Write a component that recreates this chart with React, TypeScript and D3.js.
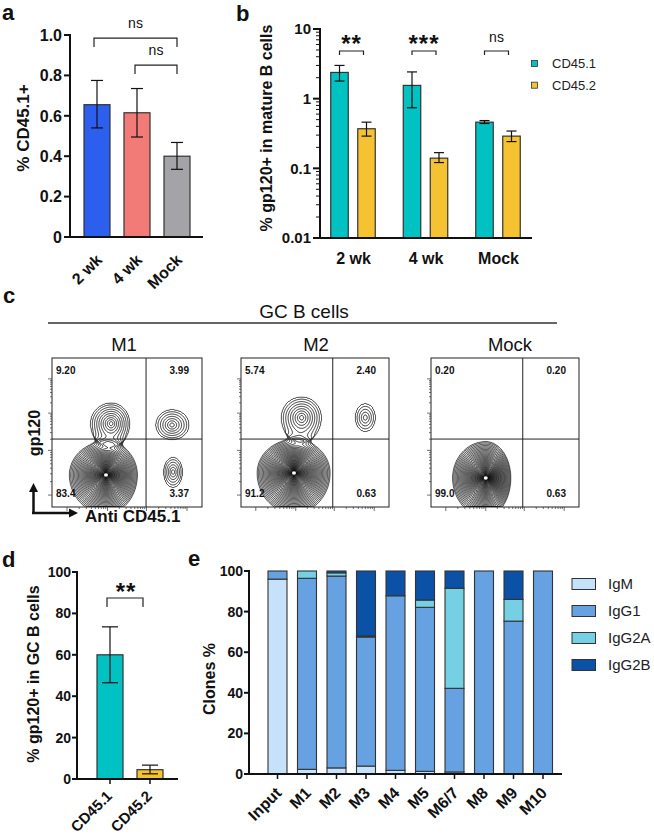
import React, { useMemo } from 'react';
import * as d3 from 'd3';

const FONT = '"Liberation Sans", Arial, Helvetica, sans-serif';

// ---------- Panel a ----------
const aCategories = ['2 wk', '4 wk', 'Mock'];
const aMeans = [0.655, 0.615, 0.4];
const aErrLow = [0.54, 0.495, 0.335];
const aErrHigh = [0.775, 0.735, 0.468];
const aColors = ['#2c5fee', '#f27b78', '#a4a4a8'];
const aTicks = [0, 0.2, 0.4, 0.6, 0.8, 1.0];
const aBrackets = [
  { from: '2 wk', to: 'Mock', level: 0.985, label: 'ns' },
  { from: '4 wk', to: 'Mock', level: 0.851, label: 'ns' },
];

// ---------- Panel b ----------
const bGroups = ['2 wk', '4 wk', 'Mock'];
const bSeries = ['CD45.1', 'CD45.2'];
const bColors = ['#00c2c2', '#f5c332'];
const bCD451 = [2.38, 1.55, 0.46];
const bCD451Low = [1.79, 0.74, 0.44];
const bCD451High = [3.0, 2.42, 0.485];
const bCD452 = [0.37, 0.14, 0.29];
const bCD452Low = [0.29, 0.121, 0.242];
const bCD452High = [0.46, 0.168, 0.343];
const bSig = ['**', '***', 'ns'];
const bTicks = [0.01, 0.1, 1, 10];

// ---------- Panel c ----------
const cPanels = ['M1', 'M2', 'Mock'];
const cQuadUL = ['9.20', '5.74', '0.20'];
const cQuadUR = ['3.99', '2.40', '0.20'];
const cQuadLL = ['83.4', '91.2', '99.0'];
const cQuadLR = ['3.37', '0.63', '0.63'];
// populations: [cx, cy, rxLeft, rxRight, ryDown, ryUp, rings] in plot fractions (y from bottom)
const cPopsM1 = [
  [0.36, 0.215, 0.245, 0.21, 0.26, 0.225, 52],
  [0.395, 0.56, 0.14, 0.125, 0.15, 0.14, 10],
  [0.8, 0.55, 0.11, 0.115, 0.1, 0.105, 7],
  [0.807, 0.235, 0.065, 0.065, 0.105, 0.1, 6],
];
const cPopsM2 = [
  [0.358, 0.228, 0.25, 0.245, 0.27, 0.225, 54],
  [0.41, 0.6, 0.14, 0.135, 0.16, 0.14, 9],
  [0.84, 0.6, 0.07, 0.07, 0.095, 0.095, 5],
];
const cPopsMock = [
  [0.37, 0.195, 0.225, 0.17, 0.26, 0.245, 52],
];
const cPops = [cPopsM1, cPopsM2, cPopsMock];

// ---------- Panel d ----------
const dCategories = ['CD45.1', 'CD45.2'];
const dMeans = [60, 4.5];
const dErrLow = [46.5, 2.5];
const dErrHigh = [73.5, 6.7];
const dColors = ['#00c2c2', '#f5c332'];
const dTicks = [0, 20, 40, 60, 80, 100];

// ---------- Panel e ----------
const eCategories = ['Input', 'M1', 'M2', 'M3', 'M4', 'M5', 'M6/7', 'M8', 'M9', 'M10'];
const eKeys = ['IgM', 'IgG1', 'IgG2A', 'IgG2B'];
const eIgM = [96, 2.3, 3, 3.9, 1.8, 1.3, 1, 0, 0, 0];
const eIgG1 = [4, 94.1, 94.5, 63.6, 86, 80.8, 41.2, 100, 75.3, 100];
const eIgG2A = [0, 3.6, 1.6, 0.5, 0, 3.6, 49.3, 0, 10.7, 0];
const eIgG2B = [0, 0, 0.9, 32, 12.2, 14.3, 8.5, 0, 14, 0];
const eColors = ['#c6e2fb', '#66a1e2', '#74d0e2', '#0b51a6'];
const eTicks = [0, 20, 40, 60, 80, 100];

const STROKE = '#333';

function FlowPlot(props: any) {
  const { x, y, w, h, pops, qx, qy, id, ul, ur, ll, lr, title, titleX } = props;
  const Q = 1.12;
  const LQ = Math.log(Q);
  const contours = useMemo(() => {
    const values = new Array(w * h);
    for (let j = 0; j < h; j++) {
      for (let i = 0; i < w; i++) {
        const xn = (i + 0.5) / w;
        const yn = 1 - (j + 0.5) / h;
        let f = 0;
        for (const p of pops) {
          const ddx = xn - p[0];
          const ddy = yn - p[1];
          const dx = ddx / (ddx < 0 ? p[2] : p[3]);
          const dy = ddy / (ddy < 0 ? p[4] : p[5]);
          const u = Math.sqrt(dx * dx + dy * dy);
          const P = p[6] >= 20 ? 0.5 : 0.95;
          const e = u <= 1 ? p[6] * (1 - Math.pow(u, P)) * LQ : -9 * (u - 1);
          f += Math.exp(e);
        }
        values[j * w + i] = f;
      }
    }
    const th = d3.range(0, 60).map((k) => Math.pow(Q, k));
    return d3.contours().size([w, h]).thresholds(th)(values);
  }, [w, h, pops]);
  const path = d3.geoPath();
  const majors = [0.08, 0.38, 0.63, 0.86];
  const xa = [0.1, 0.37, 0.63, 0.9];
  const yTicks: any[] = [];
  const xTicks: any[] = [];
  majors.forEach((m, k) => {
    yTicks.push({ v: m, major: true });
    xTicks.push({ v: xa[k], major: true });
    if (k < majors.length - 1) {
      for (let t = 2; t <= 9; t++) {
        yTicks.push({ v: m + (majors[k + 1] - m) * Math.log10(t), major: false });
        xTicks.push({ v: xa[k] + (xa[k + 1] - xa[k]) * Math.log10(t), major: false });
      }
    }
  });
  const vx = x + qx * w;
  const hy = y + (1 - qy) * h;
  return (
    <g>
      <defs>
        <clipPath id={id}>
          <rect x={x} y={y} width={w} height={h} />
        </clipPath>
      </defs>
      <text x={titleX} y={351} textAnchor="middle" fontSize={18.5} fill="#111">{title}</text>
      <g clipPath={`url(#${id})`}>
        <g transform={`translate(${x},${y})`}>
          {contours.map((c: any, i: number) => (
            <path key={i} d={path(c) || ''} fill="none" stroke="#000" strokeWidth={0.8} />
          ))}
          {pops.filter((p: number[]) => p[6] >= 20).map((p: number[], i: number) => (
            <ellipse key={'w' + i} cx={p[0] * w} cy={(1 - p[1]) * h} rx={2} ry={1.7} fill="#fff" />
          ))}
        </g>
      </g>
      <rect x={x} y={y} width={w} height={h} fill="none" stroke="#222" strokeWidth={1} />
      <line x1={vx} x2={vx} y1={y} y2={y + h} stroke="#222" strokeWidth={1} />
      <line x1={x} x2={x + w} y1={hy} y2={hy} stroke="#222" strokeWidth={1} />
      {yTicks.map((t, i) => (
        <line key={'yt' + i} x1={x} x2={x - (t.major ? 4 : 2)} y1={y + (1 - t.v) * h} y2={y + (1 - t.v) * h} stroke="#333" strokeWidth={0.7} />
      ))}
      {xTicks.map((t, i) => (
        <line key={'xt' + i} y1={y + h} y2={y + h + (t.major ? 4 : 2)} x1={x + t.v * w} x2={x + t.v * w} stroke="#333" strokeWidth={0.7} />
      ))}
      <g fontSize={10} fontWeight="bold" fill="#111">
        <text x={x + 4} y={y + 16}>{ul}</text>
        <text x={x + w - 13} y={y + 16} textAnchor="end">{ur}</text>
        <text x={x + 4} y={y + h - 10}>{ll}</text>
        <text x={x + w - 13} y={y + h - 10} textAnchor="end">{lr}</text>
      </g>
    </g>
  );
}

export default function App() {
  // ---- a scales
  const xA = d3.scaleBand().domain(aCategories).range([77, 197]).paddingInner(0.35).paddingOuter(0.175);
  const yA = d3.scaleLinear().domain([0, 1]).range([237, 35]);
  const cA = (c: string) => (xA(c) as number) + xA.bandwidth() / 2;

  // ---- b scales
  const xB = d3.scaleBand().domain(bGroups).range([317.25, 534.75]);
  const xBin = d3.scaleBand().domain(bSeries).range([13.5, 58]).paddingInner(0.352);
  const yB = d3.scaleLog().domain([0.01, 10]).range([238, 29]);
  const bVals = [bCD451, bCD452];
  const bLow = [bCD451Low, bCD452Low];
  const bHigh = [bCD451High, bCD452High];
  const bMinor: number[] = [];
  [0.01, 0.1, 1].forEach((d) => {
    for (let m = 2; m <= 9; m++) bMinor.push(d * m);
  });

  // ---- d scales
  const xD = d3.scaleBand().domain(dCategories).range([77, 183]).paddingInner(0.35).paddingOuter(0.5);
  const yD = d3.scaleLinear().domain([0, 100]).range([779, 572]);
  const cD = (c: string) => (xD(c) as number) + xD.bandwidth() / 2;

  // ---- e scales
  const xE = d3.scaleBand().domain(eCategories).range([249, 571.5]).paddingInner(0.356).paddingOuter(0.644);
  const yE = d3.scaleLinear().domain([0, 100]).range([774, 571]);
  const eRows = eCategories.map((c, i) => ({ cat: c, IgM: eIgM[i], IgG1: eIgG1[i], IgG2A: eIgG2A[i], IgG2B: eIgG2B[i] }));
  const eStack = d3.stack<any>().keys(eKeys)(eRows);

  const flowBoxes = [
    { x: 52, w: 150, qx: 0.627, titleX: 124 },
    { x: 241, w: 148, qx: 0.62, titleX: 316 },
    { x: 431, w: 148, qx: 0.62, titleX: 510 },
  ];

  return (
    <svg width={654} height={834} style={{ position: 'absolute', left: 0, top: 0, background: '#fff' }} fontFamily={FONT}>
      <rect x={0} y={0} width={654} height={834} fill="#fff" />
      {/* Panel letters */}
      <g fontWeight="bold" fontSize={22} fill="#111">
        <text x={2} y={20}>a</text>
        <text x={236} y={21}>b</text>
        <text x={3} y={303}>c</text>
        <text x={2} y={567}>d</text>
        <text x={188} y={566}>e</text>
      </g>

      {/* ================= Panel a ================= */}
      <g>
        {aCategories.map((c, i) => (
          <rect key={c} x={xA(c)} y={yA(aMeans[i])} width={xA.bandwidth()} height={yA(0) - yA(aMeans[i])} fill={aColors[i]} stroke={STROKE} strokeWidth={1.2} />
        ))}
        {aCategories.map((c, i) => (
          <g key={'e' + c} stroke="#111" strokeWidth={1.2}>
            <line x1={cA(c)} x2={cA(c)} y1={yA(aErrLow[i])} y2={yA(aErrHigh[i])} />
            <line x1={cA(c) - 6} x2={cA(c) + 6} y1={yA(aErrLow[i])} y2={yA(aErrLow[i])} />
            <line x1={cA(c) - 6} x2={cA(c) + 6} y1={yA(aErrHigh[i])} y2={yA(aErrHigh[i])} />
          </g>
        ))}
        <line x1={70} x2={70} y1={34} y2={238} stroke="#111" strokeWidth={2} />
        <line x1={69} x2={203} y1={237} y2={237} stroke="#111" strokeWidth={2} />
        {aTicks.map((t) => (
          <g key={t}>
            <line x1={64} x2={70} y1={yA(t)} y2={yA(t)} stroke="#111" strokeWidth={2} />
            <text x={62} y={yA(t)} dy="0.36em" textAnchor="end" fontSize={16} fontWeight="bold" fill="#111">{t === 0 ? '0' : t.toFixed(1)}</text>
          </g>
        ))}
        {aCategories.map((c) => (
          <text key={'l' + c} transform={`translate(${cA(c) + 6},${261}) rotate(-45)`} textAnchor="end" fontSize={16} fontWeight="bold" fill="#111">{c}</text>
        ))}
        <text transform="translate(29,128) rotate(-90)" textAnchor="middle" fontSize={17} fontWeight="bold" fill="#111">% CD45.1+</text>
        {aBrackets.map((b, i) => {
          const x1 = cA(b.from) - (i === 0 ? 3 : 2);
          const x2 = cA(b.to);
          const yy = yA(b.level);
          return (
            <g key={'br' + i}>
              <path d={`M${x1},${yy + 9}V${yy}H${x2}V${yy + 9}`} fill="none" stroke="#222" strokeWidth={1.2} />
              <text x={(x1 + x2) / 2} y={yy - 10} textAnchor="middle" fontSize={14} fill="#111">{b.label}</text>
            </g>
          );
        })}
      </g>

      {/* ================= Panel b ================= */}
      <g>
        {bGroups.map((g, gi) =>
          bSeries.map((s, si) => {
            const bx = (xB(g) as number) + (xBin(s) as number);
            const v = bVals[si][gi];
            const cx = bx + xBin.bandwidth() / 2;
            return (
              <g key={g + s}>
                <rect x={bx} y={yB(v)} width={xBin.bandwidth()} height={yB(0.01) - yB(v)} fill={bColors[si]} stroke={STROKE} strokeWidth={1.2} />
                <g stroke="#111" strokeWidth={1.2}>
                  <line x1={cx} x2={cx} y1={yB(bLow[si][gi])} y2={yB(bHigh[si][gi])} />
                  <line x1={cx - 5} x2={cx + 5} y1={yB(bLow[si][gi])} y2={yB(bLow[si][gi])} />
                  <line x1={cx - 5} x2={cx + 5} y1={yB(bHigh[si][gi])} y2={yB(bHigh[si][gi])} />
                </g>
              </g>
            );
          })
        )}
        <line x1={320} x2={320} y1={28} y2={239} stroke="#111" strokeWidth={2} />
        <line x1={319} x2={532} y1={238} y2={238} stroke="#111" strokeWidth={2} />
        {bTicks.map((t) => (
          <g key={t}>
            <line x1={313} x2={320} y1={yB(t)} y2={yB(t)} stroke="#111" strokeWidth={2} />
            <text x={311} y={yB(t)} dy="0.36em" textAnchor="end" fontSize={15} fontWeight="bold" fill="#111">{String(t)}</text>
          </g>
        ))}
        {bMinor.map((t) => (
          <line key={'m' + t} x1={316} x2={320} y1={yB(t)} y2={yB(t)} stroke="#111" strokeWidth={1} />
        ))}
        {bGroups.map((g) => (
          <text key={'xl' + g} x={(xB(g) as number) + xB.bandwidth() / 2} y={264} textAnchor="middle" fontSize={16} fontWeight="bold" fill="#111">{g}</text>
        ))}
        {bGroups.map((g, gi) => {
          const x1 = (xB(g) as number) + (xBin('CD45.1') as number) + xBin.bandwidth() / 2;
          const x2 = (xB(g) as number) + (xBin('CD45.2') as number) + xBin.bandwidth() / 2 - 3;
          const lab = bSig[gi];
          return (
            <g key={'sig' + g}>
              <path d={`M${x1},55V51H${x2}V55`} fill="none" stroke="#222" strokeWidth={1.2} />
              {lab === 'ns' ? (
                <text x={(x1 + x2) / 2} y={42} textAnchor="middle" fontSize={14} fill="#111">ns</text>
              ) : (
                <text x={(x1 + x2) / 2} y={52} textAnchor="middle" fontSize={24} fontWeight="bold" fill="#111" letterSpacing={1}>{lab}</text>
              )}
            </g>
          );
        })}
        <text transform="translate(272,128) rotate(-90)" textAnchor="middle" fontSize={16} fontWeight="bold" fill="#111">% gp120+ in mature B cells</text>
        {bSeries.map((s, i) => (
          <g key={'lg' + s}>
            <rect x={531.5} y={60.5 + i * 21.7} width={6} height={6} fill={bColors[i]} stroke={STROKE} strokeWidth={0.8} />
            <text x={552} y={63.5 + i * 21.7} dy="0.36em" fontSize={13} fill="#222">{s}</text>
          </g>
        ))}
      </g>

      {/* ================= Panel c ================= */}
      <g>
        <text x={304} y={318} textAnchor="middle" fontSize={19} fill="#111">GC B cells</text>
        <line x1={48} x2={557} y1={323} y2={323} stroke="#333" strokeWidth={1.5} />
        {cPanels.map((p, i) => (
          <FlowPlot key={p} id={'clip' + i} x={flowBoxes[i].x} y={358} w={flowBoxes[i].w} h={149} pops={cPops[i]} qx={flowBoxes[i].qx} qy={0.456}
            ul={cQuadUL[i]} ur={cQuadUR[i]} ll={cQuadLL[i]} lr={cQuadLR[i]} title={p} titleX={flowBoxes[i].titleX} />
        ))}
        <g stroke="#111" strokeWidth={2.5} fill="none">
          <line x1={33.5} x2={33.5} y1={513} y2={490} />
          <line x1={32} x2={71} y1={513} y2={513} />
        </g>
        <polygon points="33.5,483 29,492 38,492" fill="#111" />
        <polygon points="78,513 69,508.5 69,517.5" fill="#111" />
        <text transform="translate(40,433) rotate(-90)" textAnchor="middle" fontSize={16} fontWeight="bold" fill="#111">gp120</text>
        <text x={85} y={522} fontSize={17} fontWeight="bold" fill="#111">Anti CD45.1</text>
      </g>

      {/* ================= Panel d ================= */}
      <g>
        {dCategories.map((c, i) => (
          <rect key={c} x={xD(c)} y={yD(dMeans[i])} width={xD.bandwidth()} height={yD(0) - yD(dMeans[i])} fill={dColors[i]} stroke={STROKE} strokeWidth={1.2} />
        ))}
        {dCategories.map((c, i) => (
          <g key={'e' + c} stroke="#111" strokeWidth={1.2}>
            <line x1={cD(c)} x2={cD(c)} y1={yD(dErrLow[i])} y2={yD(dErrHigh[i])} />
            <line x1={cD(c) - 8} x2={cD(c) + 8} y1={yD(dErrLow[i])} y2={yD(dErrLow[i])} />
            <line x1={cD(c) - 8} x2={cD(c) + 8} y1={yD(dErrHigh[i])} y2={yD(dErrHigh[i])} />
          </g>
        ))}
        <line x1={77} x2={77} y1={571} y2={780} stroke="#111" strokeWidth={2} />
        <line x1={76} x2={178} y1={779} y2={779} stroke="#111" strokeWidth={2} />
        {dTicks.map((t) => (
          <g key={t}>
            <line x1={72} x2={77} y1={yD(t)} y2={yD(t)} stroke="#111" strokeWidth={2} />
            <text x={71} y={yD(t)} dy="0.36em" textAnchor="end" fontSize={14} fontWeight="bold" fill="#111">{t}</text>
          </g>
        ))}
        {dCategories.map((c) => (
          <g key={'l' + c}>
            <line x1={cD(c)} x2={cD(c)} y1={779} y2={784} stroke="#111" strokeWidth={1.5} />
            <text transform={`translate(${cD(c) + 3},${797}) rotate(-45)`} textAnchor="end" fontSize={15} fontWeight="bold" fill="#111">{c}</text>
          </g>
        ))}
        <path d={`M${cD('CD45.1') - 3},607V598H${cD('CD45.2') - 7}V607`} fill="none" stroke="#222" strokeWidth={1.2} />
        <text x={126} y={600} textAnchor="middle" fontSize={24} fontWeight="bold" fill="#111" letterSpacing={1}>**</text>
        <text transform="translate(39,674) rotate(-90)" textAnchor="middle" fontSize={16} fontWeight="bold" fill="#111">% gp120+ in GC B cells</text>
      </g>

      {/* ================= Panel e ================= */}
      <g>
        {eStack.map((layer: any, li: number) =>
          layer.map((d: any, i: number) => {
            const hgt = yE(d[0]) - yE(d[1]);
            if (hgt <= 0) return null;
            return (
              <rect key={li + '-' + i} x={xE(eCategories[i])} y={yE(d[1])} width={xE.bandwidth()} height={hgt} fill={eColors[li]} stroke={STROKE} strokeWidth={1.1} />
            );
          })
        )}
        <line x1={249} x2={249} y1={570} y2={775} stroke="#111" strokeWidth={2} />
        <line x1={248} x2={562} y1={774} y2={774} stroke="#111" strokeWidth={2} />
        {eTicks.map((t) => (
          <g key={t}>
            <line x1={244} x2={249} y1={yE(t)} y2={yE(t)} stroke="#111" strokeWidth={2} />
            <text x={243} y={yE(t)} dy="0.36em" textAnchor="end" fontSize={14} fontWeight="bold" fill="#111">{t}</text>
          </g>
        ))}
        {eCategories.map((c) => {
          const cx = (xE(c) as number) + xE.bandwidth() / 2;
          return (
            <g key={'l' + c}>
              <line x1={cx} x2={cx} y1={774} y2={779} stroke="#111" strokeWidth={1.5} />
              <text transform={`translate(${cx + 5},${794}) rotate(-45)`} textAnchor="end" fontSize={16} fontWeight="bold" fill="#111">{c}</text>
            </g>
          );
        })}
        <text transform="translate(215,679) rotate(-90)" textAnchor="middle" fontSize={16} fontWeight="bold" fill="#111">Clones %</text>
        {eKeys.map((k, i) => (
          <g key={'lg' + k}>
            <rect x={572} y={578.5 + i * 27} width={23.5} height={11} fill={eColors[i]} stroke={STROKE} strokeWidth={1} />
            <text x={608} y={584 + i * 27} dy="0.36em" fontSize={15} fill="#222">{k}</text>
          </g>
        ))}
      </g>
    </svg>
  );
}
